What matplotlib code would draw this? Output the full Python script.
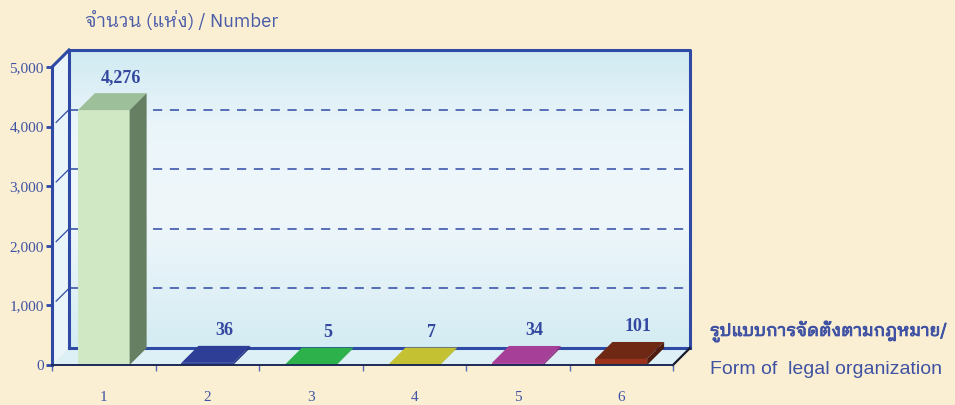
import numpy as np
import matplotlib
matplotlib.use('Agg')
import matplotlib.pyplot as plt
import matplotlib.patheffects as pe
from matplotlib import font_manager
from matplotlib.ft2font import FT2Font
from matplotlib.patches import Polygon, Rectangle
from matplotlib.colors import to_rgb

# --- data ---
categories = ['1', '2', '3', '4', '5', '6']
values = [4276, 36, 5, 7, 34, 101]
value_labels = ['4,276', '36', '5', '7', '34', '101']
y_ticks = [0, 1000, 2000, 3000, 4000, 5000]
y_tick_labels = ['0', '1,000', '2,000', '3,000', '4,000', '5,000']
title_text = 'จำนวน (แห่ง) / Number'
xlabel_th = 'รูปแบบการจัดตั้งตามกฎหมาย/'
xlabel_en = 'Form of  legal organization'

# (front, top, side) per bar
bar_colors = [
    ('#D1E8C5', '#9DBF99', '#667F62'),
    ('#3747A0', '#2E3E96', '#243180'),
    ('#2AA446', '#2DB24B', '#23913D'),
    ('#B8B52C', '#C4C132', '#A09E26'),
    ('#B44AA3', '#A63F97', '#8C3280'),
    ('#9B3219', '#6F2814', '#4D1C0E'),
]

BLUE = '#2F4AA5'
TEXT = '#3F52A3'
BG = '#FBEFD3'


def find_thai_font():
    # looped Thai faces look closest to the original (Tahoma-like)
    fonts = sorted(font_manager.fontManager.ttflist,
                   key=lambda f: ('Looped' not in f.name, 'Thai' not in f.name, f.name))
    for f in fonts:
        try:
            if 0x0E08 in FT2Font(f.fname).get_charmap():
                return f.name
        except Exception:
            continue
    return 'DejaVu Sans'


thai_font = find_thai_font()
sans = [thai_font, 'Liberation Sans', 'DejaVu Sans']

fig = plt.figure(figsize=(9.55, 4.05), dpi=100)
fig.patch.set_facecolor(BG)

# axes = front plane + depth, in pixels
W, H = 955, 405
left, right, top, bottom = 52, 690, 50, 365
ax = fig.add_axes([left / W, (H - bottom) / H, (right - left) / W, (bottom - top) / H])
ax.set_facecolor('none')

n = len(values)
ymax = 5000
px_per_x = (673 - 52) / n
px_per_y = (365 - 67) / ymax
depth = 17
dx = depth / px_per_x
dy = depth / px_per_y

x0, x1 = 0.5, n + 0.5
ax.set_xlim(x0, x1 + dx)
ax.set_ylim(0, ymax + dy)

# back wall gradient
frac = np.linspace(0, 1, 200)
stops = [0.0, 0.45, 0.75, 1.0]
cols = [to_rgb(c) for c in ['#D4ECF3', '#F0F7FB', '#EAF5FA', '#D0EAF2']]
grad = np.stack([np.interp(frac, stops, [c[k] for c in cols]) for k in range(3)], axis=-1)
ax.imshow(grad[:, None, :], extent=(x0 + dx, x1 + dx, dy, ymax + dy), origin='lower',
          aspect='auto', zorder=0)

# left side wall and floor
ax.add_patch(Polygon([(x0, 0), (x0 + dx, dy), (x0 + dx, ymax + dy), (x0, ymax)],
                     fc='#EAF5F9', ec='none', zorder=1))
ax.add_patch(Polygon([(x0, 0), (x1, 0), (x1 + dx, dy), (x0 + dx, dy)],
                     fc='#DDF0F6', ec='none', zorder=1))

# gridlines on back wall + slanted on side wall
for t in y_ticks[1:-1]:
    ax.plot([x0 + dx, x1 + dx], [t + dy, t + dy], color=BLUE, lw=1.1,
            dashes=(6, 5), zorder=2)
    ax.plot([x0 + 0.04, x0 + dx], [t + dy * 0.25, t + dy], color=BLUE, lw=0.9,
            zorder=2)

# frame lines
frame_kw = dict(color=BLUE, lw=2.2, solid_capstyle='projecting', zorder=3, clip_on=False)
ax.plot([x0 + dx, x1 + dx], [dy, dy], **frame_kw)
ax.plot([x0 + dx, x0 + dx], [dy, ymax + dy], **frame_kw)
ax.plot([x0 + dx, x1 + dx, x1 + dx], [ymax + dy, ymax + dy, dy], **frame_kw)
ax.plot([x0, x0 + dx], [ymax, ymax + dy], **frame_kw)
ax.plot([x1, x1 + dx], [0, dy], color='#1A1A2E', lw=1.6, zorder=3, clip_on=False)

# bars
for i, (v, lab, (cf, ct, cs)) in enumerate(zip(values, value_labels, bar_colors)):
    xc = i + 1
    a, b = xc - 0.25, xc + 0.25
    ax.add_patch(Rectangle((a, 0), 0.5, v, fc=cf, ec='none', zorder=5))
    ax.add_patch(Polygon([(a, v), (b, v), (b + dx, v + dy), (a + dx, v + dy)],
                         fc=ct, ec='none', zorder=5))
    ax.add_patch(Polygon([(b, 0), (b + dx, dy), (b + dx, v + dy), (b, v)],
                         fc=cs, ec='none', zorder=5))
    ax.annotate(lab, (xc + dx, v + dy), xytext=(0, 5), textcoords='offset points',
                ha='center', va='bottom', family='Liberation Serif', weight='bold',
                fontsize=13, color='#3548A0', zorder=6)

# spines / ticks
for s in ['top', 'right']:
    ax.spines[s].set_visible(False)
ax.spines['left'].set_bounds(0, ymax)
ax.spines['left'].set_color(BLUE)
ax.spines['left'].set_linewidth(2.2)
ax.spines['left'].set_zorder(7)
ax.spines['bottom'].set_bounds(x0, x1)
ax.spines['bottom'].set_color('#1E2A55')
ax.spines['bottom'].set_linewidth(1.4)
ax.spines['bottom'].set_zorder(7)

ax.set_yticks(y_ticks)
ax.set_yticklabels(y_tick_labels, family='Liberation Serif', fontsize=11, color=TEXT)
ax.tick_params(axis='y', direction='out', length=4.5, width=2, color=BLUE, pad=1.5)

ax.set_xticks(range(1, n + 1))
ax.set_xticklabels(categories, family='Liberation Serif', fontsize=11, color=TEXT)
ax.set_xticks(np.arange(x0, x1 + 0.01, 1), minor=True)
ax.tick_params(axis='x', which='major', length=0, pad=19)
ax.tick_params(axis='x', which='minor', direction='out', length=4, width=1, color='#5A6AB5')

# titles
fig.text(85 / W, 1 - 21 / H, title_text, family=sans, fontsize=13.5, color='#4A5CA8',
         va='center', ha='left')
th = fig.text(710 / W, 1 - 331 / H, xlabel_th, family=sans, fontsize=14,
              color=TEXT, va='center', ha='left',
              path_effects=[pe.withStroke(linewidth=0.7, foreground=TEXT)])
# shrink the Thai label so it ends near the right edge like the original
renderer = fig.canvas.get_renderer()
w = th.get_window_extent(renderer).width
if w > 238:
    th.set_fontsize(14 * 238 / w)
fig.text(710 / W, 1 - 369 / H, xlabel_en, family=['Liberation Sans', 'DejaVu Sans'],
         fontsize=14, color=TEXT, va='center', ha='left')

fig.savefig('out.png', dpi=100, facecolor=BG)
